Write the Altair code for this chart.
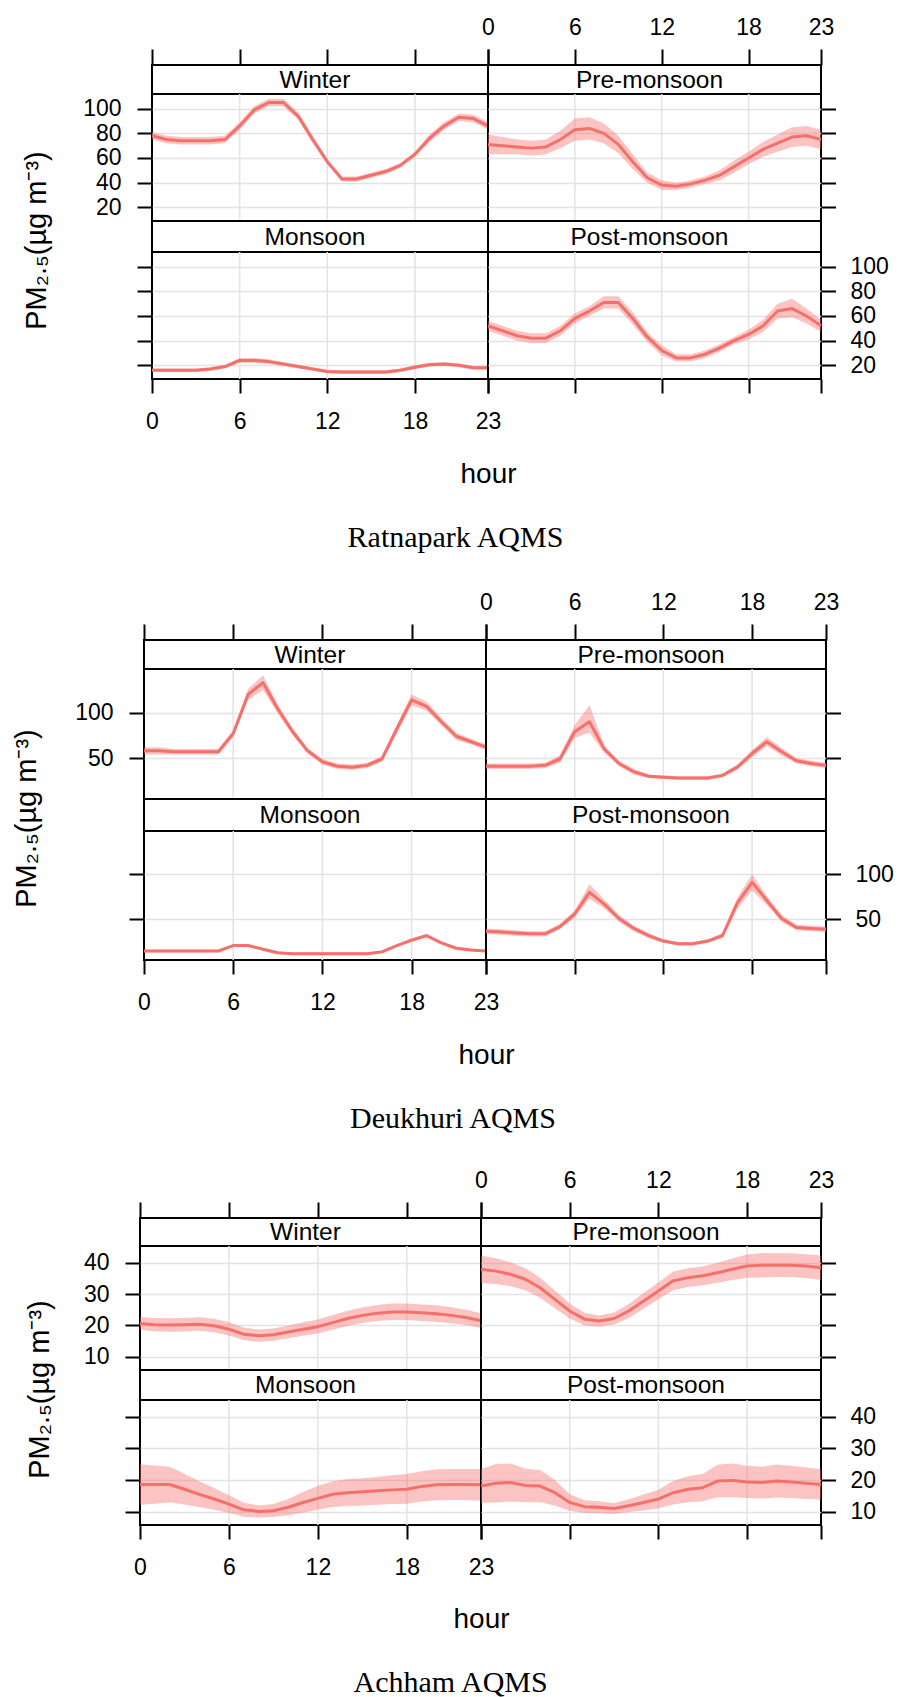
import altair as alt
import pandas as pd

# ---------------------------------------------------------------------------
# Diurnal PM2.5 profiles (hourly mean with 95% confidence limits) by season
# ---------------------------------------------------------------------------
HOURS = list(range(24))
HOUR_TICKS = [0, 6, 12, 18, 23]
GRID_HOURS = [6, 12, 18]
SEASONS = ["Winter", "Pre-monsoon", "Monsoon", "Post-monsoon"]
STATIONS = ["Ratnapark AQMS", "Deukhuri AQMS", "Achham AQMS"]
Y_TITLE = "PM\u2082.\u2085(\u00b5g m\u207b\u00b3)"

RATNAPARK_TICKS = [20, 40, 60, 80, 100]
DEUKHURI_TICKS = [50, 100]
ACHHAM_TICKS = [10, 20, 30, 40]

# Ratnapark
RAT_WINTER_MEAN = [78, 75, 74, 74, 74, 75, 86, 99, 105, 105, 94, 75, 57, 43, 43, 46, 49, 54, 63, 76, 86, 93, 92, 86]
RAT_WINTER_LOW = [75, 72, 71, 71, 71, 72, 83, 96, 102, 102, 91, 72, 55, 41, 41, 44, 47, 52, 61, 73, 83, 90, 89, 83]
RAT_WINTER_HIGH = [81, 78, 77, 77, 77, 78, 89, 102, 108, 108, 97, 78, 59, 45, 45, 48, 51, 56, 65, 79, 89, 96, 95, 89]

RAT_PRE_MEAN = [71, 70, 69, 68, 69, 75, 83, 84, 80, 71, 57, 44, 38, 37, 39, 42, 46, 53, 60, 67, 72, 77, 78, 75]
RAT_PRE_LOW = [63, 63, 63, 62, 63, 68, 74, 75, 72, 64, 51, 40, 34, 34, 36, 39, 42, 48, 55, 61, 65, 69, 70, 67]
RAT_PRE_HIGH = [79, 77, 75, 74, 75, 82, 92, 93, 88, 78, 63, 48, 42, 40, 42, 45, 50, 58, 65, 73, 79, 85, 86, 83]

RAT_MON_MEAN = [16, 16, 16, 16, 17, 19, 24, 24, 23, 21, 19, 17, 15, 14.5, 14.5, 14.5, 14.5, 16, 18.5, 20.5, 21, 20, 18, 18]
RAT_MON_LOW = [14.5, 14.5, 14.5, 14.5, 15.5, 17.5, 22, 22, 21, 19.5, 17.5, 15.5, 13.5, 13, 13, 13, 13, 14.5, 17, 19, 19.5, 18.5, 16.5, 16.5]
RAT_MON_HIGH = [17.5, 17.5, 17.5, 17.5, 18.5, 20.5, 26, 26, 25, 22.5, 20.5, 18.5, 16.5, 16, 16, 16, 16, 17.5, 20, 22, 22.5, 21.5, 19.5, 19.5]

RAT_POST_MEAN = [52, 48, 44, 42, 42, 48, 58, 64, 71, 71, 58, 43, 32, 26, 26, 29, 34, 40, 45, 52, 64, 66, 60, 52]
RAT_POST_LOW = [48, 44, 40, 38, 38, 44, 54, 60, 66, 66, 53, 39, 28, 23, 23, 26, 31, 37, 41, 47, 58, 59, 54, 47]
RAT_POST_HIGH = [56, 52, 48, 46, 46, 52, 62, 68, 76, 76, 63, 47, 36, 29, 29, 32, 37, 43, 49, 57, 70, 74, 66, 57]

# Deukhuri
DEU_WINTER_MEAN = [58, 58, 57, 57, 57, 57, 77, 120, 133, 104, 79, 58, 46, 41, 40, 42, 49, 82, 114, 107, 90, 74, 68, 62]
DEU_WINTER_LOW = [54, 54, 54, 54, 54, 54, 73, 114, 125, 99, 75, 55, 43, 38, 37, 39, 46, 77, 108, 102, 86, 70, 65, 59]
DEU_WINTER_HIGH = [62, 62, 60, 60, 60, 60, 81, 126, 141, 109, 83, 61, 49, 44, 43, 45, 52, 87, 120, 112, 94, 78, 71, 65]

DEU_PRE_MEAN = [41, 41, 41, 41, 42, 49, 79, 90, 60, 44, 35, 30, 29, 28, 28, 28, 31, 40, 55, 68, 57, 47, 44, 42]
DEU_PRE_LOW = [38, 38, 38, 38, 39, 45, 72, 78, 56, 41, 32, 28, 27, 26, 26, 26, 29, 37, 51, 63, 53, 44, 41, 39]
DEU_PRE_HIGH = [44, 44, 44, 44, 45, 53, 86, 108, 64, 47, 38, 32, 31, 30, 30, 30, 33, 43, 59, 73, 61, 50, 47, 45]

DEU_MON_MEAN = [15, 15, 15, 15, 15, 15, 21, 21, 17, 13, 12, 12, 12, 12, 12, 12, 14, 21, 27, 32, 24, 18, 16, 15]
DEU_MON_LOW = [13.5, 13.5, 13.5, 13.5, 13.5, 13.5, 19.5, 19.5, 15.5, 11.5, 10.5, 10.5, 10.5, 10.5, 10.5, 10.5, 12.5, 19.5, 25, 30, 22.5, 16.5, 14.5, 13.5]
DEU_MON_HIGH = [16.5, 16.5, 16.5, 16.5, 16.5, 16.5, 22.5, 22.5, 18.5, 14.5, 13.5, 13.5, 13.5, 13.5, 13.5, 13.5, 15.5, 22.5, 29, 34, 25.5, 19.5, 17.5, 16.5]

DEU_POST_MEAN = [37, 36, 35, 34, 34, 42, 56, 80, 67, 51, 40, 32, 26, 23, 23, 26, 32, 68, 91, 71, 51, 41, 40, 39]
DEU_POST_LOW = [34, 33, 32, 31, 31, 39, 52, 73, 62, 47, 37, 29, 24, 21, 21, 24, 29, 62, 82, 66, 47, 38, 37, 36]
DEU_POST_HIGH = [40, 39, 38, 37, 37, 45, 60, 89, 72, 55, 43, 35, 28, 25, 25, 28, 35, 74, 100, 76, 55, 44, 43, 42]

# Achham
ACH_WINTER_MEAN = [20.6, 20.2, 20.1, 20.2, 20.4, 19.9, 18.8, 17.2, 16.7, 17.0, 17.9, 18.8, 19.6, 20.9, 22.2, 23.2, 23.9, 24.3, 24.3, 24.0, 23.7, 23.2, 22.5, 21.5]
ACH_WINTER_LOW = [18.6, 18.1, 18.0, 18.1, 18.3, 17.8, 16.8, 15.3, 14.8, 15.1, 15.9, 16.7, 17.4, 18.6, 19.8, 20.8, 21.4, 21.7, 21.7, 21.4, 21.1, 20.7, 20.1, 19.2]
ACH_WINTER_HIGH = [22.7, 22.4, 22.3, 22.4, 22.6, 22.1, 21.0, 19.3, 18.7, 19.0, 20.0, 21.0, 21.9, 23.3, 24.7, 25.7, 26.5, 27.0, 27.0, 26.7, 26.4, 25.8, 25.0, 23.9]

ACH_PRE_MEAN = [37.9, 37.3, 36.3, 34.7, 32.0, 28.3, 24.6, 22.0, 21.4, 22.2, 24.6, 27.8, 31.0, 34.2, 35.2, 35.8, 36.8, 37.9, 38.9, 39.2, 39.2, 39.2, 38.9, 38.4]
ACH_PRE_LOW = [33.5, 33.2, 32.5, 31.2, 28.8, 25.5, 22.2, 20.0, 19.6, 20.3, 22.4, 25.3, 28.3, 31.2, 32.2, 32.8, 33.6, 34.5, 35.2, 35.3, 35.4, 35.4, 35.1, 34.5]
ACH_PRE_HIGH = [42.3, 41.4, 40.1, 38.2, 35.2, 31.1, 27.0, 24.0, 23.2, 24.1, 26.8, 30.3, 33.7, 37.2, 38.2, 38.8, 40.0, 41.3, 42.6, 43.1, 43.0, 43.0, 42.7, 42.3]

ACH_MON_MEAN = [18.6, 18.6, 18.6, 17.1, 15.5, 14.0, 12.4, 10.6, 10.1, 10.3, 11.4, 12.9, 14.2, 15.5, 16.0, 16.3, 16.6, 16.9, 17.1, 18.0, 18.5, 18.6, 18.6, 18.5]
ACH_MON_LOW = [12.2, 12.5, 13.0, 12.3, 11.5, 10.6, 9.6, 8.4, 8.2, 8.3, 8.9, 9.7, 10.6, 11.5, 11.8, 12.0, 12.2, 12.4, 12.5, 13.2, 13.6, 13.7, 13.7, 13.5]
ACH_MON_HIGH = [25.0, 24.6, 24.2, 22.0, 19.6, 17.5, 15.2, 12.8, 12.0, 12.4, 14.0, 16.2, 18.2, 19.6, 20.3, 20.6, 21.0, 21.5, 21.9, 22.8, 23.4, 23.5, 23.5, 23.5]

ACH_POST_MEAN = [18.1, 19.0, 19.2, 18.3, 18.1, 16.0, 12.9, 11.6, 11.4, 11.0, 11.9, 12.9, 14.0, 16.0, 17.1, 17.6, 19.7, 19.9, 19.4, 19.2, 19.7, 19.4, 19.0, 18.6]
ACH_POST_LOW = [12.8, 12.9, 13.2, 13.0, 13.0, 12.0, 10.3, 9.6, 9.5, 9.3, 9.9, 10.4, 11.1, 12.3, 13.0, 13.3, 14.6, 14.6, 14.3, 14.2, 14.5, 14.3, 14.0, 13.8]
ACH_POST_HIGH = [23.4, 25.1, 25.2, 23.6, 23.2, 20.0, 15.5, 13.6, 13.3, 12.7, 13.9, 15.4, 16.9, 19.7, 21.2, 21.9, 24.8, 25.2, 24.5, 24.2, 24.9, 24.5, 24.0, 23.4]

SERIES = {
    "Ratnapark AQMS": [
        (RAT_WINTER_MEAN, RAT_WINTER_LOW, RAT_WINTER_HIGH),
        (RAT_PRE_MEAN, RAT_PRE_LOW, RAT_PRE_HIGH),
        (RAT_MON_MEAN, RAT_MON_LOW, RAT_MON_HIGH),
        (RAT_POST_MEAN, RAT_POST_LOW, RAT_POST_HIGH),
    ],
    "Deukhuri AQMS": [
        (DEU_WINTER_MEAN, DEU_WINTER_LOW, DEU_WINTER_HIGH),
        (DEU_PRE_MEAN, DEU_PRE_LOW, DEU_PRE_HIGH),
        (DEU_MON_MEAN, DEU_MON_LOW, DEU_MON_HIGH),
        (DEU_POST_MEAN, DEU_POST_LOW, DEU_POST_HIGH),
    ],
    "Achham AQMS": [
        (ACH_WINTER_MEAN, ACH_WINTER_LOW, ACH_WINTER_HIGH),
        (ACH_PRE_MEAN, ACH_PRE_LOW, ACH_PRE_HIGH),
        (ACH_MON_MEAN, ACH_MON_LOW, ACH_MON_HIGH),
        (ACH_POST_MEAN, ACH_POST_LOW, ACH_POST_HIGH),
    ],
}

# Panel geometry per station block: indent of the panel grid, panel sizes,
# scale limits and placement of the axis titles
LAYOUT = {
    "Ratnapark AQMS": dict(indent=11.7, wl=336, wr=333, s1=29, p1=127, s2=31, p2=127,
                           ydom=[8.9, 111.9], yticks=RATNAPARK_TICKS,
                           tx=-100.4, ty=146, hy=95),
    "Deukhuri AQMS": dict(indent=3.7, wl=342, wr=340, s1=29, p1=130, s2=32, p2=129,
                          ydom=[5.0, 148.0], yticks=DEUKHURI_TICKS,
                          tx=-102.4, ty=149, hy=95),
    "Achham AQMS": dict(indent=0, wl=341, wr=340, s1=28, p1=124, s2=30, p2=125,
                        ydom=[5.8, 45.3], yticks=ACHHAM_TICKS,
                        tx=-85.3, ty=143, hy=94),
}

FONT = "Liberation Sans"
SERIF = "Liberation Serif"
LINE_COLOUR = "#F5706B"
GRID_COLOUR = "#E3E3E3"


def hour_x(axis):
    return alt.X("hour:Q", scale=alt.Scale(domain=[0, 23], nice=False, zero=False),
                 axis=axis, title=None)


def top_axis(with_labels):
    return alt.Axis(orient="top", values=HOUR_TICKS, labels=with_labels, tickSize=16,
                    labelPadding=22, labelBaseline="middle", grid=False)


def strip(label, width, height, axis):
    df = pd.DataFrame({"hour": [11.5], "season": [label]})
    return (
        alt.Chart(df)
        .mark_text(font=FONT, fontSize=24.5, color="black", align="center",
                   baseline="middle", dx=-5, dy=1)
        .encode(x=hour_x(axis), y=alt.value(height / 2), text="season:N")
        .properties(width=width, height=height)
    )


def panel(df, width, height, ydom, x_axis, y_axis):
    x = hour_x(x_axis)
    yscale = alt.Scale(domain=ydom, nice=False, zero=False)
    gridlines = (
        alt.Chart(pd.DataFrame({"hour": GRID_HOURS}))
        .mark_rule(color=GRID_COLOUR, strokeWidth=1.5)
        .encode(x=x)
    )
    band = (
        alt.Chart(df)
        .mark_area(color=LINE_COLOUR, opacity=0.42)
        .encode(x=x, y=alt.Y("lower:Q", scale=yscale, axis=y_axis), y2="upper:Q")
    )
    line = (
        alt.Chart(df)
        .mark_line(color=LINE_COLOUR, strokeWidth=3, strokeJoin="round")
        .encode(x=x, y=alt.Y("mean:Q", scale=yscale, axis=y_axis))
    )
    return alt.layer(gridlines, band, line).properties(width=width, height=height)


def block(station):
    g = LAYOUT[station]
    frames = [
        pd.DataFrame({"hour": HOURS, "mean": m, "lower": lo, "upper": hi})
        for (m, lo, hi) in SERIES[station]
    ]
    yt = g["yticks"]
    left_title = alt.Axis(orient="left", values=yt, tickSize=15, labelPadding=16,
                          grid=True, title=Y_TITLE, titleX=g["tx"], titleY=g["ty"],
                          titleFontSize=29, titleAngle=270, titleBaseline="bottom",
                          titleAlign="center")
    left_plain = alt.Axis(orient="left", values=yt, tickSize=15, labels=False,
                          grid=True, title=None)
    right_plain = alt.Axis(orient="right", values=yt, tickSize=14.5, labels=False,
                           grid=True, title=None)
    right_labels = alt.Axis(orient="right", values=yt, tickSize=14.5, labelPadding=14.5,
                            grid=True, title=None)
    bottom_labels = alt.Axis(orient="bottom", values=HOUR_TICKS, tickSize=14,
                             labelPadding=28, labelBaseline="middle", grid=False,
                             title="hour", titleX=g["wl"], titleY=g["hy"],
                             titleBaseline="middle", titleAlign="center",
                             titleFontSize=28)
    bottom_plain = alt.Axis(orient="bottom", values=HOUR_TICKS, tickSize=14,
                            labels=False, grid=False, title=None)

    cells = [
        strip(SEASONS[0], g["wl"], g["s1"], top_axis(False)),
        strip(SEASONS[1], g["wr"], g["s1"], top_axis(True)),
        panel(frames[0], g["wl"], g["p1"], g["ydom"], None, left_title),
        panel(frames[1], g["wr"], g["p1"], g["ydom"], None, right_plain),
        strip(SEASONS[2], g["wl"], g["s2"], None),
        strip(SEASONS[3], g["wr"], g["s2"], None),
        panel(frames[2], g["wl"], g["p2"], g["ydom"], bottom_labels, left_plain),
        panel(frames[3], g["wr"], g["p2"], g["ydom"], bottom_plain, right_labels),
    ]
    grid = alt.concat(
        *cells,
        columns=2,
        spacing=0,
        bounds="flush",
        align="each",
        title=alt.TitleParams(station, orient="bottom", anchor="middle", font=SERIF,
                              fontSize=30, fontWeight="normal", color="black",
                              offset=34),
    ).resolve_scale(x="independent", y="independent")

    if g["indent"] <= 0:
        return grid
    # empty, invisible cell that pushes the panel grid to the right
    indent = (
        alt.Chart(pd.DataFrame({"gap": [0]}))
        .mark_point(opacity=0)
        .encode(x=alt.value(0), y=alt.value(0))
        .properties(width=g["indent"], height=1,
                    view=alt.ViewBackground(strokeOpacity=0, fillOpacity=0))
    )
    return alt.hconcat(indent, grid, spacing=0, bounds="flush").resolve_scale(
        x="independent", y="independent")


lower_pair = alt.vconcat(block(STATIONS[1]), block(STATIONS[2]), spacing=34).resolve_scale(
    x="independent", y="independent")

chart = (
    alt.vconcat(block(STATIONS[0]), lower_pair, spacing=37)
    .resolve_scale(x="independent", y="independent")
    .properties(padding={"left": 11, "top": 15, "right": 2, "bottom": 0}, background="white")
    .configure_view(stroke="black", strokeWidth=2, fill="white")
    .configure_axis(domain=False, tickColor="black", tickWidth=2, labelColor="black",
                    labelFont=FONT, labelFontSize=23, gridColor=GRID_COLOUR, gridWidth=1.5,
                    labelOverlap=False, labelFlush=False, titleColor="black",
                    titleFont=FONT, titleFontWeight="normal")
)

chart.save("out.html", embed_options={"renderer": "svg", "actions": False})
